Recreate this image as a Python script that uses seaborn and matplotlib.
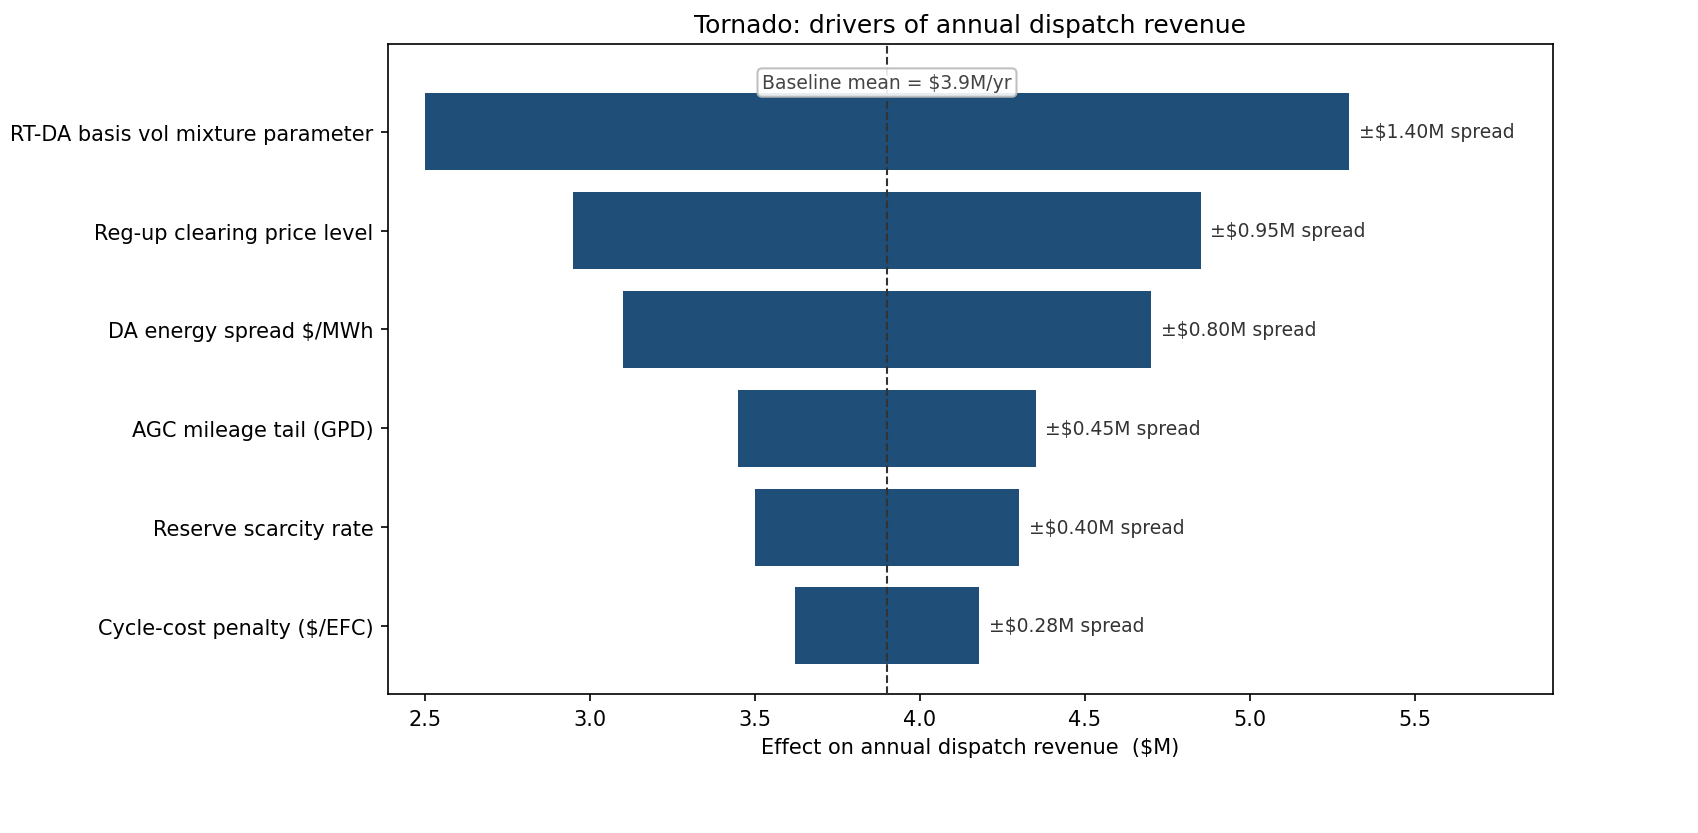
import matplotlib
matplotlib.use("Agg")
import matplotlib.pyplot as plt
import seaborn as sns
import pandas as pd
import numpy as np

# tornado inputs ($M/yr)
drivers = [
    "RT-DA basis vol mixture parameter",
    "Reg-up clearing price level",
    "DA energy spread $/MWh",
    "AGC mileage tail (GPD)",
    "Reserve scarcity rate",
    "Cycle-cost penalty ($/EFC)",
]
low_vals = [2.50, 2.95, 3.10, 3.45, 3.50, 3.62]
high_vals = [5.30, 4.85, 4.70, 4.35, 4.30, 4.18]
spread_vals = [1.40, 0.95, 0.80, 0.45, 0.40, 0.28]
baseline = 3.9

df = pd.DataFrame({"driver": drivers, "low": low_vals, "high": high_vals, "spread": spread_vals})
df["width"] = df["high"] - df["low"]

fig, ax = plt.subplots(figsize=(11.32, 5.56), dpi=150)
fig.subplots_adjust(left=0.2285, right=0.9146, top=0.946, bottom=0.1667)

sns.barplot(data=df, x="width", y="driver", left=df["low"].values, orient="h",
            color="#1f4e79", saturation=1, width=0.78, ax=ax)

ax.axvline(baseline, color="#333333", linestyle="--", linewidth=1, zorder=5)

for i, row in df.iterrows():
    ax.text(row["high"] + 0.03, i, f"\u00b1${row['spread']:.2f}M spread",
            va="center", ha="left", fontsize=9, color="#333333")

ax.text(baseline, -0.5, f"Baseline mean = ${baseline:.1f}M/yr", ha="center", va="center",
        fontsize=9, color="#444444", zorder=6,
        bbox=dict(boxstyle="round,pad=0.25", fc="white", ec="#bbbbbb", alpha=0.9))

ax.set_xlim(2.388, 5.918)
ax.set_ylim(5.69, -0.89)
ax.set_xlabel("Effect on annual dispatch revenue  ($M)")
ax.set_ylabel("")
ax.set_title("Tornado: drivers of annual dispatch revenue")

plt.savefig("out.png", dpi=150)
